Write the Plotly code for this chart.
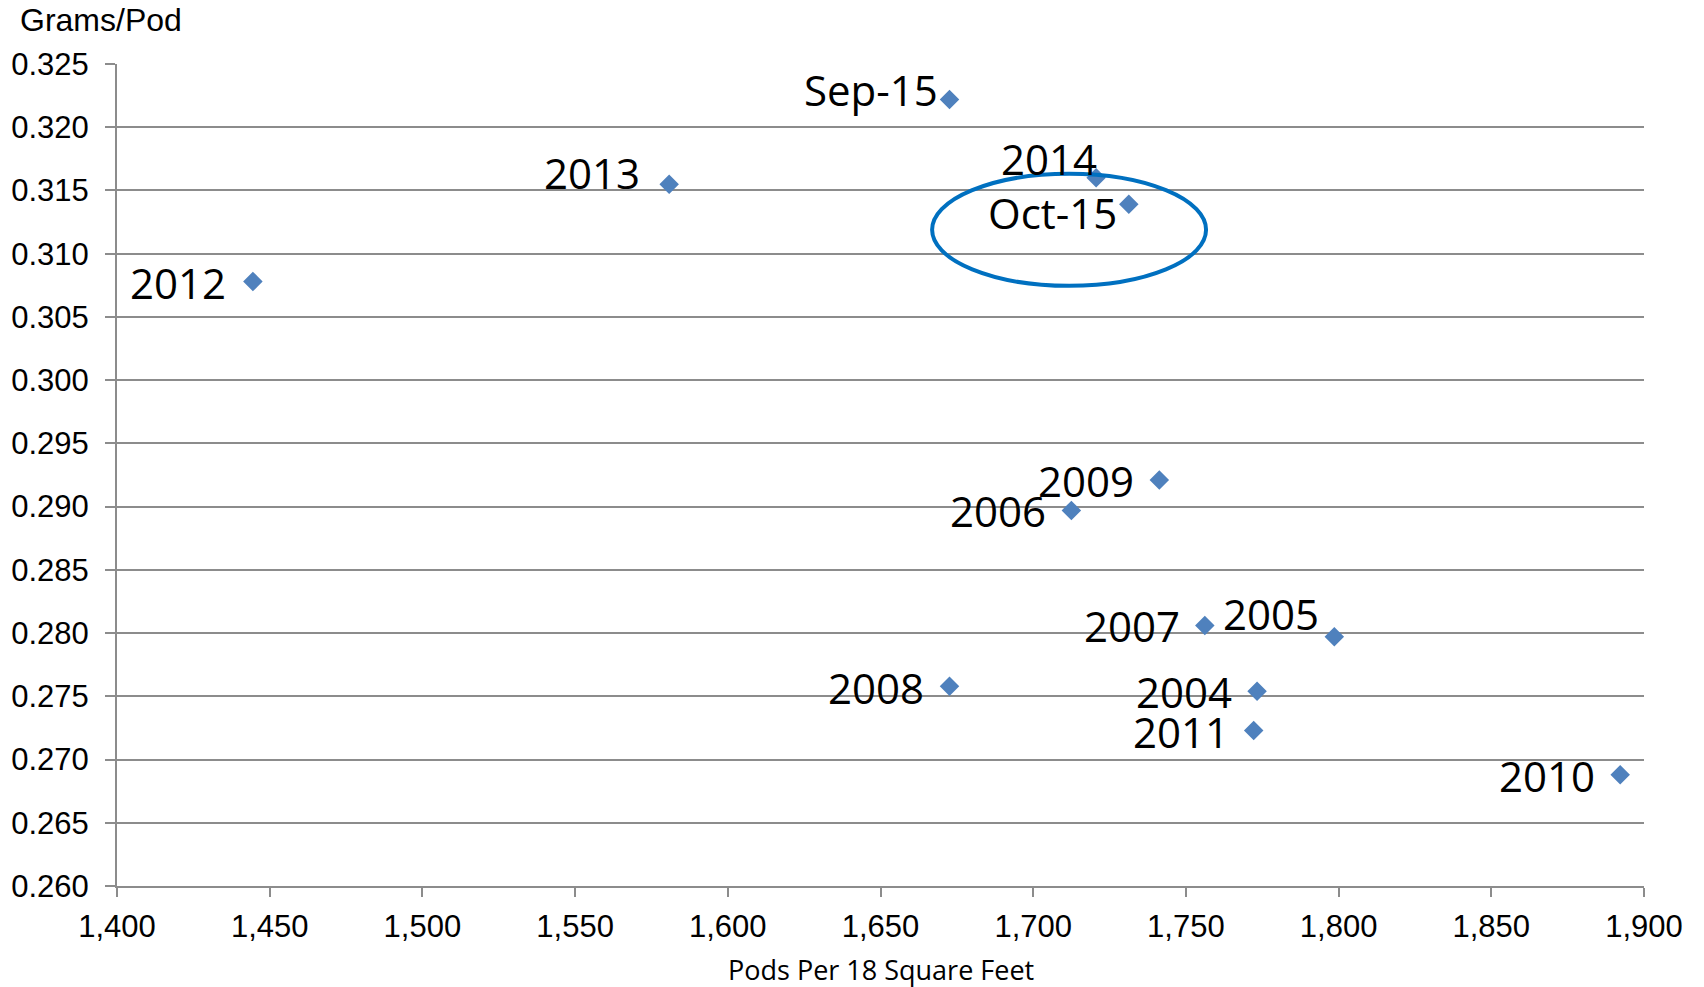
import plotly.graph_objects as go

labels = ["Sep-15", "2013", "2014", "Oct-15", "2012", "2009", "2006", "2007", "2005", "2008", "2004", "2011", "2010"]
pods = [1672.6, 1580.8, 1720.6, 1731.3, 1444.5, 1741.3, 1712.5, 1756.2, 1798.6, 1672.6, 1773.3, 1772.2, 1892.2]
grams = [0.3222, 0.3155, 0.3160, 0.3139, 0.3078, 0.2921, 0.2897, 0.2806, 0.2797, 0.2758, 0.2754, 0.2723, 0.2688]
# label offsets in pixels (right edge of label relative to point)
label_dx = [-10, -27, 3, -10, -25, -23, -23, -23, -13, -24, -23, -23, -23]
label_dy = [10, 12, 19, -8, -1, 0, 0, 0, 23, -1, 0, -1, -1]

x_ticks = [1400, 1450, 1500, 1550, 1600, 1650, 1700, 1750, 1800, 1850, 1900]
y_ticks = [0.260, 0.265, 0.270, 0.275, 0.280, 0.285, 0.290, 0.295, 0.300, 0.305, 0.310, 0.315, 0.320, 0.325]

grid = "#8c8c8c"
tickfont = dict(family="Liberation Sans, Arial", size=31, color="black")
labfont = dict(family="Open Sans, Noto Sans", size=42, color="black")

fig = go.Figure()
fig.add_trace(go.Scatter(
    x=pods, y=grams, mode="markers",
    marker=dict(symbol="diamond", size=15, color="#4F81BD"),
    hoverinfo="skip", showlegend=False,
))

for lab, x, y, dx, dy in zip(labels, pods, grams, label_dx, label_dy):
    fig.add_annotation(x=x, y=y, text=lab, showarrow=False, xanchor="right", yanchor="middle",
                       xshift=dx, yshift=dy, font=labfont)

# highlight ellipse around Oct-15
fig.add_shape(type="circle", xref="x", yref="y", x0=1666.9, x1=1756.6, y0=0.30746, y1=0.31632,
              line=dict(color="#0070C0", width=4))

fig.add_annotation(xref="paper", yref="paper", x=-0.0648, y=1.0535, xanchor="left", yanchor="middle",
                   text="Grams/Pod", showarrow=False, font=dict(family="Liberation Sans, Arial", size=32, color="black"))
fig.add_annotation(xref="paper", yref="paper", x=0.5, y=-0.102, xanchor="center", yanchor="middle",
                   text="Pods Per 18 Square Feet", showarrow=False,
                   font=dict(family="Open Sans, Noto Sans", size=27, color="black"))

fig.update_layout(
    width=1704, height=987,
    margin=dict(l=117, r=60, t=64, b=101),
    paper_bgcolor="white", plot_bgcolor="white",
    xaxis=dict(range=[1400, 1900], tickvals=x_ticks, ticktext=[f"{v:,}" for v in x_ticks],
               showgrid=False, zeroline=False, showline=True, linecolor=grid, linewidth=2,
               ticks="outside", ticklen=9, tickcolor=grid, tickwidth=2, tickfont=tickfont,
               ticklabelstandoff=3, automargin=False),
    yaxis=dict(range=[0.260, 0.325], tickvals=y_ticks, ticktext=[f"{v:.3f}" for v in y_ticks],
               showgrid=True, gridcolor=grid, gridwidth=2, zeroline=False,
               showline=True, linecolor=grid, linewidth=2,
               ticks="outside", ticklen=10, tickcolor=grid, tickwidth=2, tickfont=tickfont,
               ticklabelstandoff=10, automargin=False),
)

fig.write_html("out.html", config={"displayModeBar": False},
               post_script="document.body.style.margin='0';")
